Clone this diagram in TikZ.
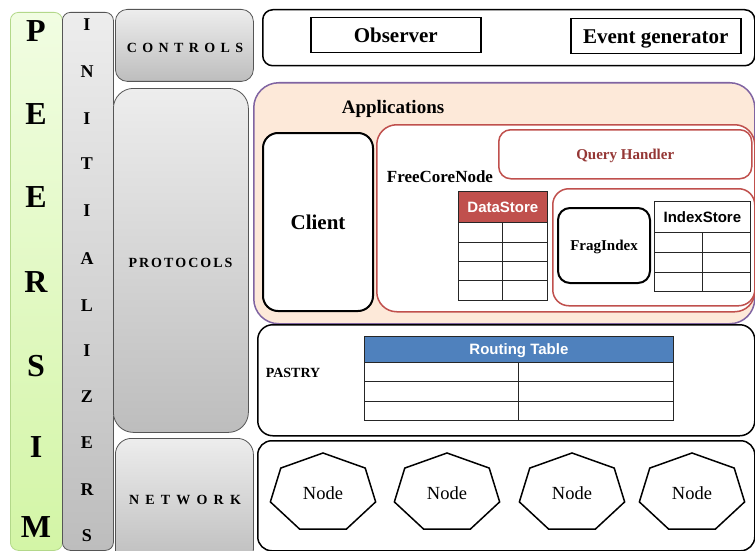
\documentclass[tikz,border=0pt]{standalone}
\usepackage{fontspec}
\setmainfont{Liberation Serif}
\setsansfont{Liberation Sans}
\usetikzlibrary{calc}
\definecolor{appfill}{HTML}{FDE9D9}
\definecolor{apppurple}{HTML}{8064A2}
\definecolor{cred}{HTML}{C0504D}
\definecolor{qred}{HTML}{953735}
\definecolor{cblue}{HTML}{4F81BD}
\definecolor{gtop}{HTML}{F1FDE2}
\definecolor{gbot}{HTML}{D3F5A6}
\definecolor{gborder}{HTML}{B3D88A}
\definecolor{graytop}{HTML}{EDEDED}
\definecolor{graybot}{HTML}{BDBDBD}
\definecolor{grayborder}{HTML}{555555}
% #1 options, #2 name, #3 x1, #4 y1, #5 x2, #6 y2, #7 text
\newcommand\rbx[7]{\node[#1, anchor=north west, inner sep=0pt, text depth=0pt,
  minimum width={(#5-#3)*1pt}, minimum height={(#6-#4)*1pt}] (#2) at (#3,#4) {#7};}
\newcommand\fs[1]{\fontsize{#1}{#1}\selectfont}
\tikzset{
  greencol/.style={draw=gborder, rounded corners=8pt, line width=0.8pt, top color=gtop, bottom color=gbot},
  graycol/.style={draw=grayborder, rounded corners=8pt, line width=0.8pt, top color=graytop, bottom color=graybot},
  layer/.style={draw=grayborder, line width=0.8pt, top color=graytop, bottom color=graybot},
  blk/.style={draw=black, line width=1.5pt, fill=white},
  redb/.style={draw=cred, line width=1.5pt, fill=white},
  sq/.style={draw=black, line width=1.5pt, fill=white},
  lbl/.style={inner sep=0pt, text depth=0pt},
  tabb/.style={draw=black!85, line width=0.8pt, fill=white},
  tabl/.style={draw=black!85, line width=0.8pt},
  hept/.style={draw=black, line width=1.5pt},
}
\begin{document}
\begin{tikzpicture}[x=1pt,y=-1pt]
\useasboundingbox (0,0) rectangle (755,551);
% left columns
\rbx{greencol}{peersim}{10}{12}{62}{550}{}
\rbx{graycol}{init}{62}{12}{113}{550}{}
\foreach \l/\y in {P/31,E/114,E/197,R/282,S/366,I/447,M/527}
  \node[lbl, font=\bfseries\fs{32}] (pe-\y) at (36,\y) {\l};
\foreach \l/\y in {I/25,N/72,I/119,T/164,I/211,A/259,L/306,I/351,Z/397,E/443,R/490,S/536}
  \node[lbl, font=\bfseries\fs{18}] (in-\y) at (87,\y) {\l};
% layer boxes
\rbx{layer, rounded corners=12pt}{controls}{115}{9}{253}{81}{}
\node[lbl, font=\bfseries\fs{14}] (controlsl) at (185,48)
  {C\hspace{5.4pt}O\hspace{5.4pt}N\hspace{5.4pt}T\hspace{5.4pt}R\hspace{5.4pt}O\hspace{5.4pt}L\hspace{5.4pt}S};
\rbx{layer, rounded corners=20pt}{protocols}{113}{88}{248}{432}{}
\node[lbl, font=\bfseries\fs{14}] (protocolsl) at (180.5,263)
  {P\hspace{2pt}R\hspace{2pt}O\hspace{2pt}T\hspace{2pt}O\hspace{2pt}C\hspace{2pt}O\hspace{2pt}L\hspace{2pt}S};
\rbx{layer, rounded corners=16pt}{network}{115}{438}{253}{565}{}
\node[lbl, font=\bfseries\fs{14}] (networkl) at (185,500)
  {N\hspace{6.2pt}E\hspace{6.2pt}T\hspace{6.2pt}W\hspace{6.2pt}O\hspace{6.2pt}R\hspace{6.2pt}K};
% controls row
\rbx{blk, rounded corners=10pt}{ctrlrow}{262}{9}{754}{65}{}
\rbx{sq}{observer}{310}{17}{480}{52}{\bfseries\fs{21}Observer}
\rbx{sq}{eventgen}{570}{18}{740}{53}{\bfseries\fs{21}Event generator}
% applications
\rbx{draw=apppurple, fill=appfill, line width=1.5pt, rounded corners=25pt}{apps}{253}{82}{754}{323}{}
\node[lbl, font=\bfseries\fs{19}] (appsl) at (393,107) {Applications};
\rbx{blk, line width=2pt, rounded corners=15pt}{client}{262}{132}{372}{310}{\bfseries\fs{21}Client}
\rbx{redb, rounded corners=20pt}{fcn}{376}{124}{754}{311}{}
\node[lbl, font=\bfseries\fs{17}] (fcnl) at (440,177) {FreeCoreNode};
\rbx{redb, rounded corners=12pt}{query}{498}{129}{751}{178}{\color{qred}\bfseries\fs{15}Query Handler}
% DataStore table
\rbx{tabl, fill=cred}{dshead}{458}{191}{547}{222}{\color{white}\sffamily\bfseries\fs{15}DataStore}
\rbx{tabb}{dsbody}{458}{222}{547}{300}{}
\foreach \y in {242,261,280} \draw[tabl] (458,\y) -- (547,\y);
\draw[tabl] (502,222) -- (502,300);
% index part
\rbx{redb, rounded corners=16pt}{inner}{552}{188}{754}{305}{}
\rbx{blk, line width=2pt, rounded corners=12pt}{frag}{557}{207}{649}{282}{\bfseries\fs{15}FragIndex}
\rbx{tabb}{ishead}{654}{201}{750}{232}{\sffamily\bfseries\fs{15}IndexStore}
\rbx{tabb}{isbody}{654}{232}{750}{291}{}
\foreach \y in {252,272} \draw[tabl] (654,\y) -- (750,\y);
\draw[tabl] (702,232) -- (702,291);
% pastry
\rbx{blk, rounded corners=15pt}{pastry}{257}{324}{754}{435}{}
\node[lbl, font=\bfseries\fs{14}] (pastryl) at (293,373) {PASTRY};
\rbx{tabl, fill=cblue}{rthead}{364}{336}{673}{362}{\color{white}\sffamily\bfseries\fs{15}Routing Table}
\rbx{tabb}{rtbody}{364}{362}{673}{420}{}
\foreach \y in {381,401} \draw[tabl] (364,\y) -- (673,\y);
\draw[tabl] (518,362) -- (518,420);
% network
\rbx{blk, rounded corners=14pt}{netrow}{257}{440}{754}{550}{}
\foreach \i/\x in {1/323,2/447,3/572,4/692}{
  \node[lbl, font=\fs{18.5}] (h\i) at (\x,493) {Node};
  \draw[hept] (h\i.center) +(90:54pt and 40pt)
    \foreach \k in {1,...,6}{ -- +({90+\k*360/7}:54pt and 40pt)} -- cycle;
}
\end{tikzpicture}
\end{document}
